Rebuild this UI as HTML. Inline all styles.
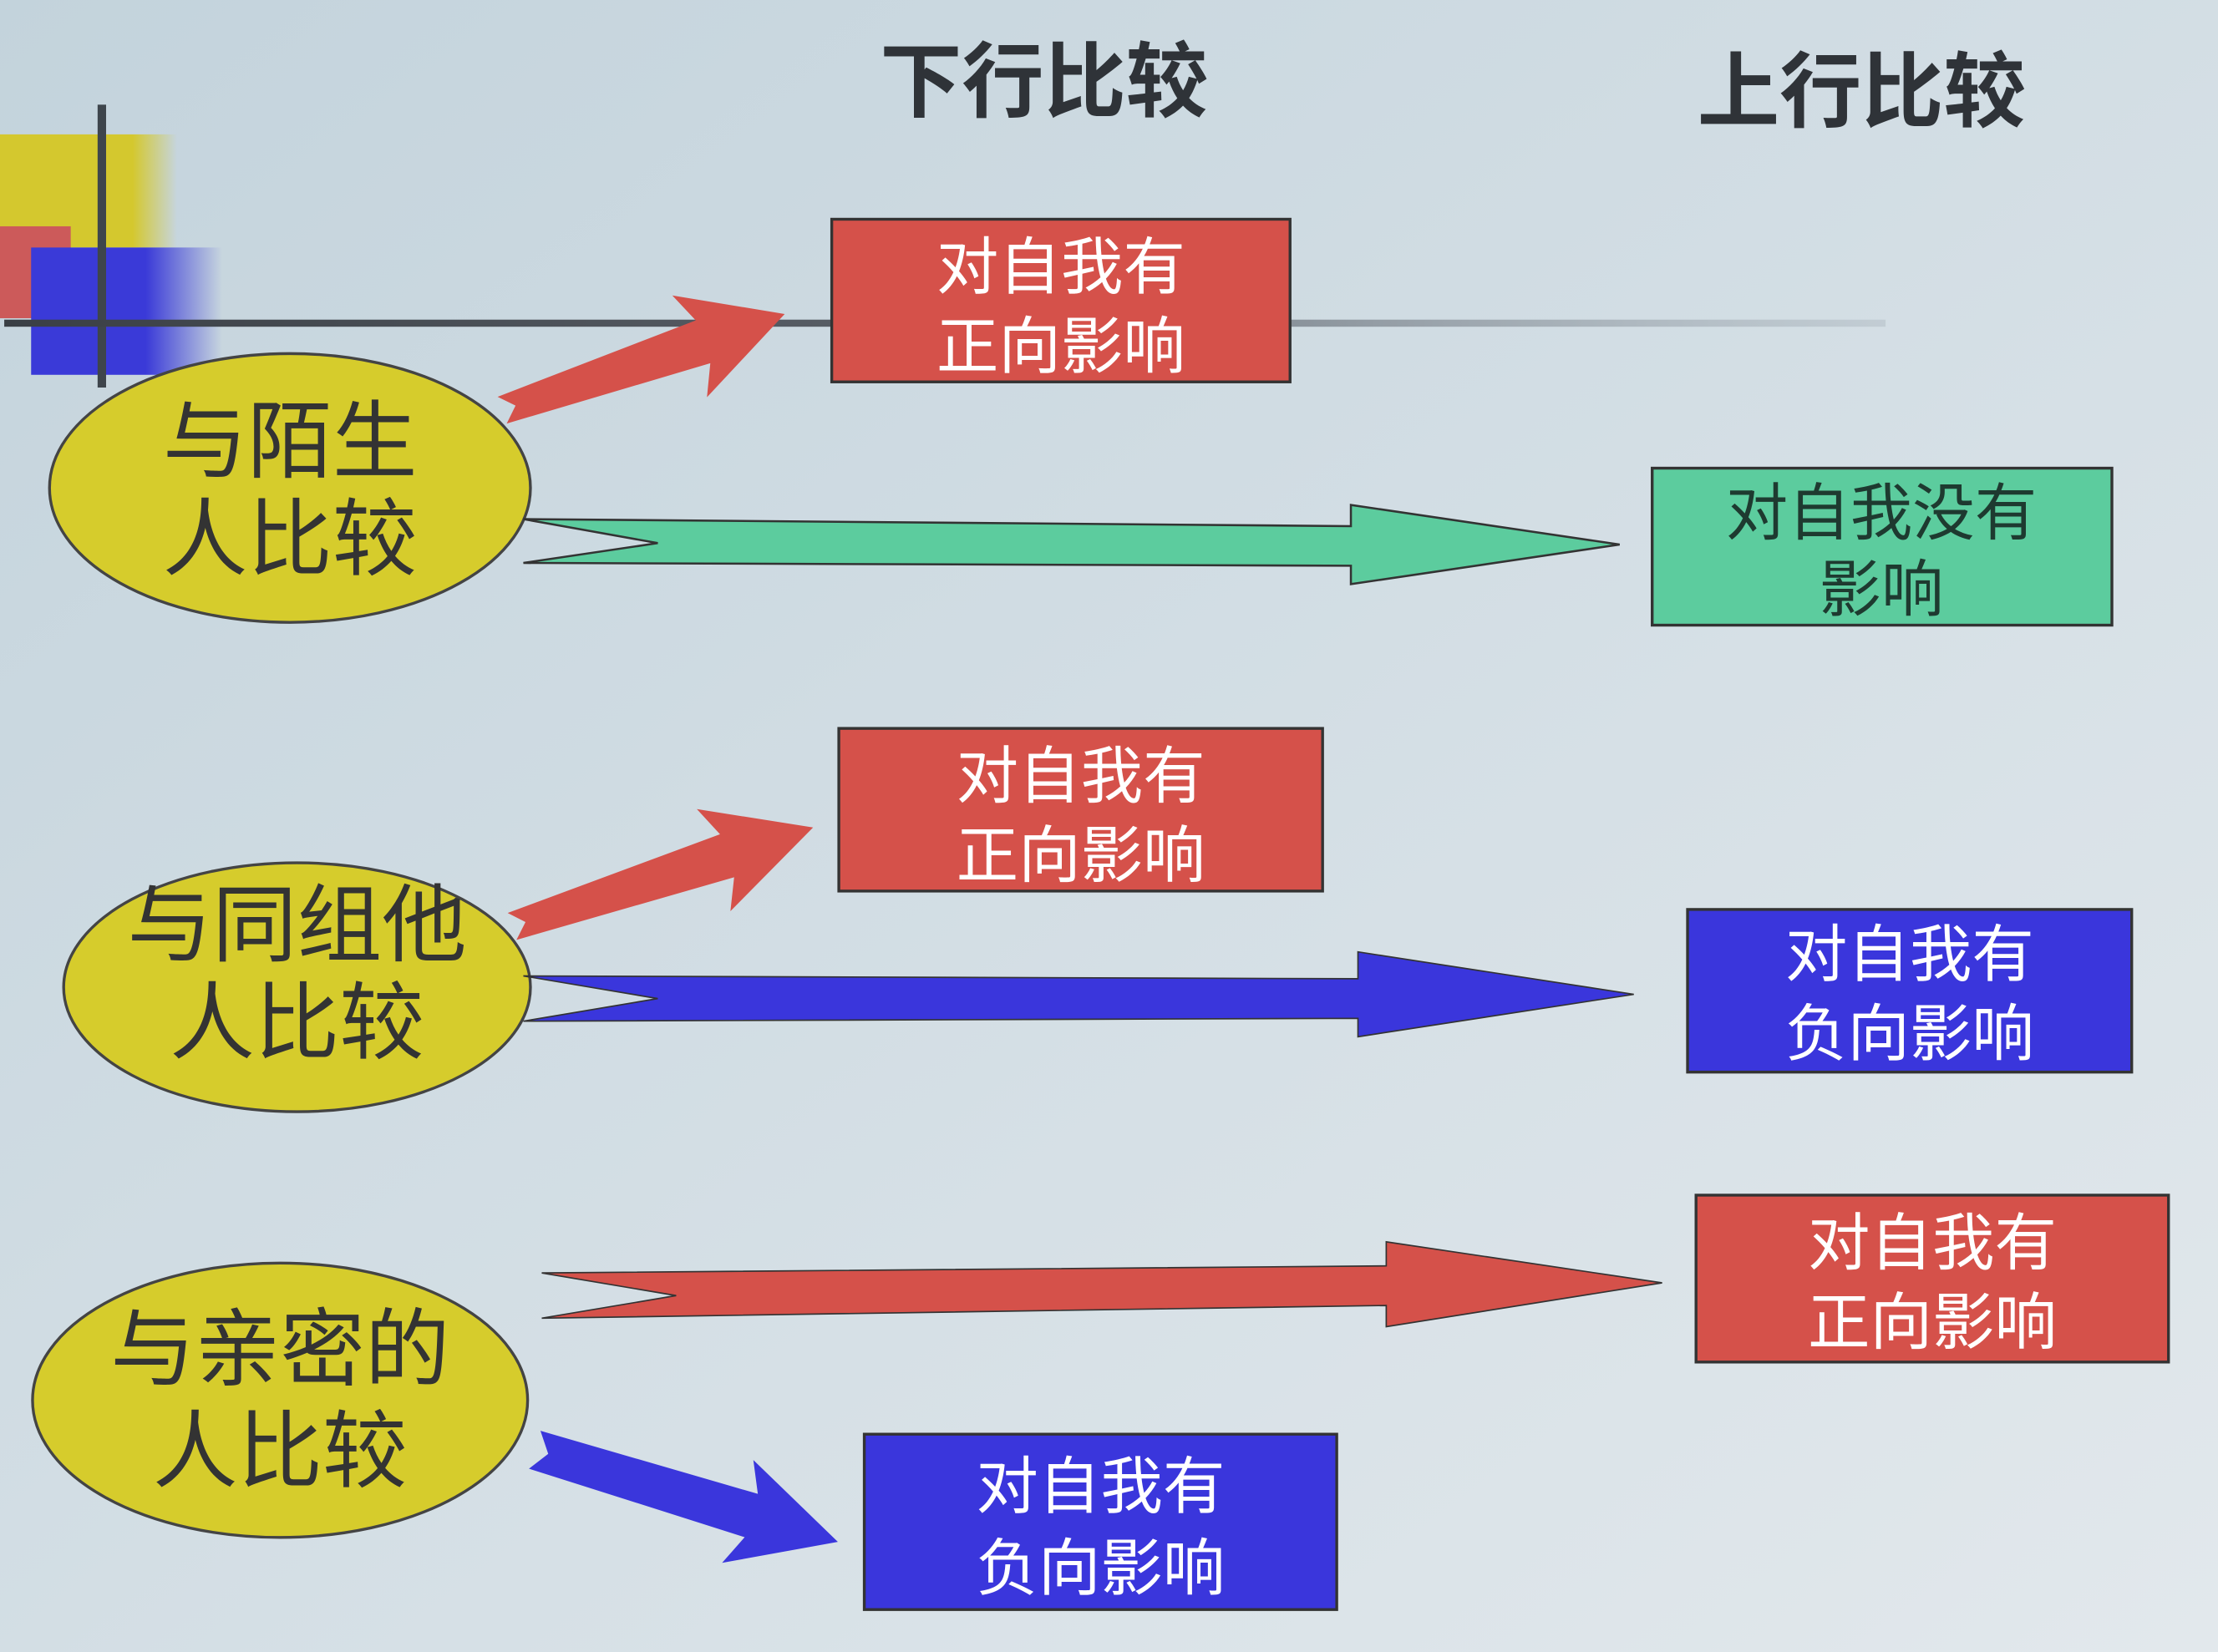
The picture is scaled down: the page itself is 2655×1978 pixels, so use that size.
<!DOCTYPE html>
<html><head><meta charset="utf-8"><style>
html,body{margin:0;padding:0;width:2655px;height:1978px;overflow:hidden;background:#c9d8e0}
svg{display:block}
text{font-family:"Liberation Sans","Noto Sans CJK SC",sans-serif}
</style></head><body>
<svg width="2655" height="1978" viewBox="0 0 1568 1168" preserveAspectRatio="none" xmlns="http://www.w3.org/2000/svg">
<defs>
<linearGradient id="bg" x1="0" y1="0" x2="1" y2="1">
<stop offset="0" stop-color="#c3d3dc"/><stop offset="0.6" stop-color="#d6e0e6"/><stop offset="1" stop-color="#e2e8ec"/></linearGradient>
<linearGradient id="yg" x1="0" x2="1"><stop offset="0.75" stop-color="#d4c82e"/><stop offset="1" stop-color="#d4c82e" stop-opacity="0"/></linearGradient>
<linearGradient id="bgr" x1="0" x2="1"><stop offset="0.6" stop-color="#3a3ad8"/><stop offset="1" stop-color="#3a3ad8" stop-opacity="0"/></linearGradient>
<linearGradient id="ln" x1="0" x2="1"><stop offset="0" stop-color="#3a3f45"/><stop offset="0.5" stop-color="#5a6068"/><stop offset="1" stop-color="#9aa4ad" stop-opacity="0.3"/></linearGradient>
</defs>
<rect width="1568" height="1168" fill="url(#bg)"/>
<rect x="0" y="95" width="125" height="80" fill="url(#yg)"/>
<rect x="0" y="160" width="50" height="65" fill="#cc5a5a"/>
<rect x="22" y="175" width="135" height="90" fill="url(#bgr)"/>
<rect x="69" y="74" width="6" height="200" fill="#3e454c"/>
<rect x="3" y="226" width="1330" height="5" fill="url(#ln)"/>

<text x="738" y="78" font-size="58" font-weight="bold" fill="#2f3338" text-anchor="middle">下行比较</text>
<text x="1316" y="85" font-size="58" font-weight="bold" fill="#2f3338" text-anchor="middle">上行比较</text>

<g stroke="#333" stroke-width="2">
<rect x="588" y="155" width="324" height="115" fill="#d5514a"/>
<rect x="1168" y="331" width="325" height="111" fill="#5ccc9e"/>
<rect x="593" y="515" width="342" height="115" fill="#d5514a"/>
<rect x="1193" y="643" width="314" height="115" fill="#3a36dc"/>
<rect x="1199" y="845" width="334" height="118" fill="#d5514a"/>
<rect x="611" y="1014" width="334" height="124" fill="#3a36dc"/>
</g>
<g font-size="44" fill="#fff" text-anchor="middle">
<text x="750" y="204">对自我有</text><text x="750" y="260">正向影响</text>
<text x="764" y="564">对自我有</text><text x="764" y="620">正向影响</text>
<text x="1350" y="690">对自我有</text><text x="1350" y="746">负向影响</text>
<text x="1366" y="894">对自我有</text><text x="1366" y="950">正向影响</text>
<text x="778" y="1066">对自我有</text><text x="778" y="1124">负向影响</text>
</g>
<g font-size="44" fill="#1e3a30" text-anchor="middle">
<text x="1330" y="378">对自我没有</text><text x="1330" y="432">影响</text>
</g>

<g fill="#d6cc2c" stroke="#444" stroke-width="2">
<ellipse cx="205" cy="345" rx="170" ry="95"/>
<ellipse cx="210" cy="698" rx="165" ry="88"/>
<ellipse cx="198" cy="990" rx="175" ry="97"/>
</g>
<g font-size="60" fill="#333" text-anchor="middle">
<text x="205" y="333">与陌生</text><text x="205" y="402">人比较</text>
<text x="210" y="675">与同组他</text><text x="210" y="744">人比较</text>
<text x="198" y="975">与亲密的</text><text x="198" y="1047">人比较</text>
</g>

<polygon points="370,367 955,372 955,357 1145,385 955,413 955,400 370,398 465,384" fill="#5ccc9e" stroke="#333" stroke-width="1.5"/>
<polygon points="370,690 960,692 960,673 1155,703 960,733 960,720 370,722 465,706" fill="#3a36dc" stroke="#333" stroke-width="1"/>
<polygon points="383,900 980,895 980,878 1175,907 980,938 980,923 383,932 478,916" fill="#d5514a" stroke="#333" stroke-width="1"/>

<g transform="translate(355,290) rotate(-18.8)"><polygon points="0,-10 150,-16 140,-38 211,0 140,38 150,16 0,10 10,0" fill="#d5514a"/></g>
<g transform="translate(362,655) rotate(-18.2)"><polygon points="0,-10 160,-16 150,-38 224,0 150,38 160,16 0,10 10,0" fill="#d5514a"/></g>
<g transform="translate(378,1025) rotate(16.9)"><polygon points="0,-14 160,-16 150,-38 224,0 150,38 160,16 0,14 10,0" fill="#3a36dc"/></g>
</svg>
</body></html>
